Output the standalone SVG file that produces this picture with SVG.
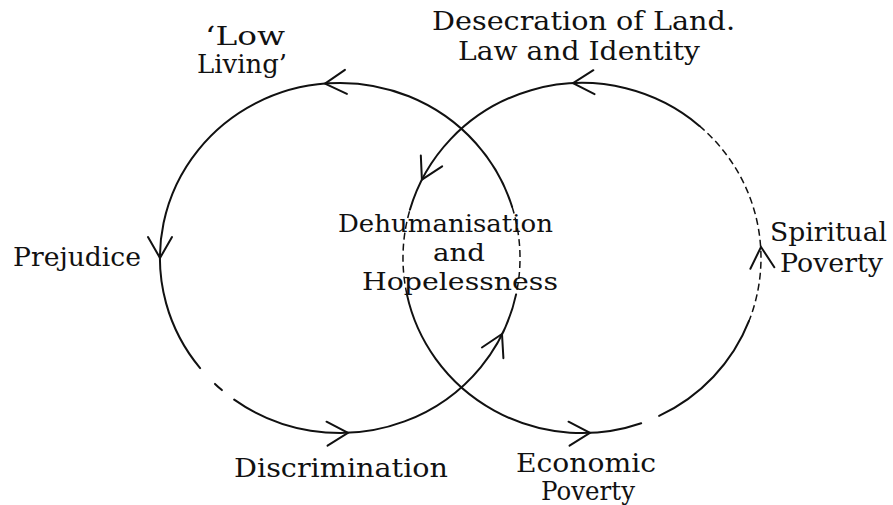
<svg xmlns="http://www.w3.org/2000/svg" xmlns:xlink="http://www.w3.org/1999/xlink" width="893" height="505" viewBox="0 0 893 505">
<style>
.lbl{font-family:"DejaVu Serif","Liberation Serif",serif;font-size:26px;fill:#111;}
.mid{font-size:25px;}
.arc{fill:none;stroke:#111;stroke-width:2;stroke-linecap:round;}
.dash{fill:none;stroke:#111;stroke-width:1.5;stroke-dasharray:7 4;}
.chev{fill:none;stroke:#111;stroke-width:2;stroke-linecap:round;stroke-linejoin:miter;}
</style>
<defs>
<path id="chev" d="M-21,-12 L0,0 L-21,12"/>
</defs>
<rect width="893" height="505" fill="#fff"/>
<g id="connectors">
  <g id="cycle-left">
    <path class="arc" d="M516.1,294.4 A180,175 0 0 1 234.2,399.6"/>
    <path class="arc" d="M221.9,390.1 A180,175 0 0 1 215.0,383.9"/>
    <path class="arc" d="M200.1,368.1 A180,175 0 1 1 512.1,206.8"/>
    <path class="dash" d="M512.1,206.8 A180,175 0 0 1 516.1,294.4"/>
    <use class="chev" xlink:href="#chev" href="#chev" transform="translate(325,83.6) rotate(175.3)"/>
    <use class="chev" xlink:href="#chev" href="#chev" transform="translate(160,258) rotate(90)"/>
    <use class="chev" xlink:href="#chev" href="#chev" transform="translate(348,432.8) rotate(-2.5)"/>
    <use class="chev" xlink:href="#chev" href="#chev" transform="translate(502,334) rotate(-63.6)"/>
  </g>
  <g id="cycle-right">
    <path class="arc" d="M749.1,320.7 A179,175 0 0 1 659.1,415.9"/>
    <path class="arc" d="M641.2,423.2 A179,175 0 0 1 406.9,294.4"/>
    <path class="dash" d="M406.9,294.4 A179,175 0 0 1 409.9,209.8"/>
    <path class="arc" d="M409.9,209.8 A179,175 0 0 1 699.4,125.9"/>
    <path class="dash" d="M699.4,125.9 A179,175 0 0 1 749.1,320.7"/>
    <use class="chev" xlink:href="#chev" href="#chev" transform="translate(573,83.2) rotate(177.2)"/>
    <use class="chev" xlink:href="#chev" href="#chev" transform="translate(421.9,179.6) rotate(117.2)"/>
    <use class="chev" xlink:href="#chev" href="#chev" transform="translate(590,432.8) rotate(-2.5)"/>
    <use class="chev" xlink:href="#chev" href="#chev" transform="translate(761,247) rotate(-93.7)"/>
  </g>
</g>
<g id="node-low-living">
  <text class="lbl" x="205" y="45" textLength="80" lengthAdjust="spacingAndGlyphs">‘Low</text>
  <text class="lbl" x="197" y="73" textLength="90" lengthAdjust="spacingAndGlyphs">Living’</text>
</g>
<g id="node-desecration">
  <text class="lbl" x="432" y="30" textLength="303" lengthAdjust="spacingAndGlyphs">Desecration of Land.</text>
  <text class="lbl" x="458" y="60" textLength="242" lengthAdjust="spacingAndGlyphs">Law and Identity</text>
</g>
<g id="node-dehumanisation">
  <text class="lbl mid" x="338" y="232" textLength="215" lengthAdjust="spacingAndGlyphs">Dehumanisation</text>
  <text class="lbl mid" x="433" y="261" textLength="52" lengthAdjust="spacingAndGlyphs">and</text>
  <text class="lbl mid" x="362" y="290" textLength="196" lengthAdjust="spacingAndGlyphs">Hopelessness</text>
</g>
<g id="node-prejudice">
  <text class="lbl" x="13" y="266" textLength="128" lengthAdjust="spacingAndGlyphs">Prejudice</text>
</g>
<g id="node-spiritual-poverty">
  <text class="lbl" x="770" y="241" textLength="117" lengthAdjust="spacingAndGlyphs">Spiritual</text>
  <text class="lbl" x="780" y="272" textLength="103" lengthAdjust="spacingAndGlyphs">Poverty</text>
</g>
<g id="node-discrimination">
  <text class="lbl" x="234" y="477" textLength="214" lengthAdjust="spacingAndGlyphs">Discrimination</text>
</g>
<g id="node-economic-poverty">
  <text class="lbl" x="516" y="472" textLength="140" lengthAdjust="spacingAndGlyphs">Economic</text>
  <text class="lbl" x="541" y="500" textLength="94" lengthAdjust="spacingAndGlyphs">Poverty</text>
</g>
</svg>
